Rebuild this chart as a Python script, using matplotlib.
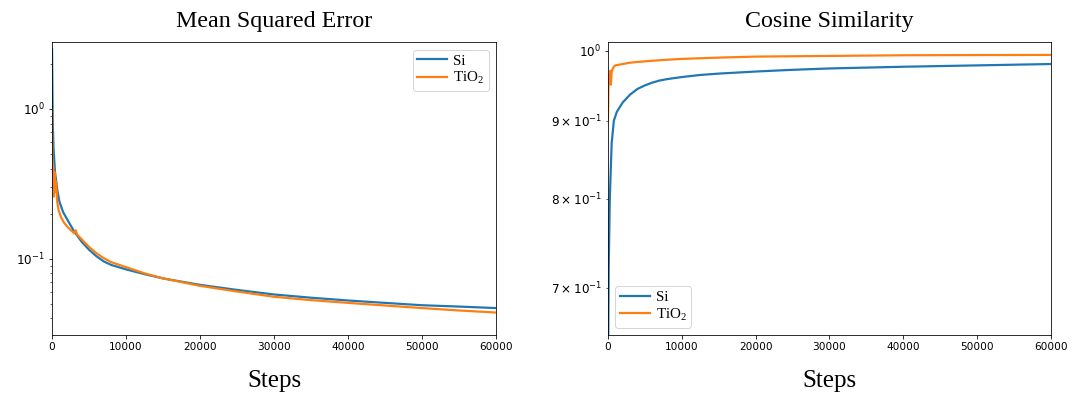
import numpy as np
import matplotlib
matplotlib.use('Agg')
import matplotlib.pyplot as plt

# MSE 曲线 (对数坐标)
mse_si_steps = [0, 100, 200, 400, 700, 1000, 1500, 2000, 3000, 4000, 5000, 6000, 7000, 8000,
                10000, 12500, 15000, 20000, 25000, 30000, 35000, 40000, 45000, 50000, 55000, 60000]
mse_si = [2.5, 0.8, 0.55, 0.38, 0.29, 0.24, 0.205, 0.185, 0.152, 0.13, 0.115, 0.104, 0.096, 0.091,
          0.085, 0.079, 0.074, 0.067, 0.062, 0.0578, 0.055, 0.0527, 0.0508, 0.049, 0.048, 0.0469]

mse_tio2_steps = [0, 50, 150, 250, 350, 450, 550, 700, 900, 1200, 1600, 2000, 2500, 3000, 3200, 3400,
                  4000, 5000, 6000, 7000, 8000, 10000, 12500, 15000, 20000, 25000, 30000, 35000,
                  40000, 45000, 50000, 55000, 60000]
mse_tio2 = [1.0, 0.3, 0.42, 0.26, 0.38, 0.28, 0.33, 0.24, 0.21, 0.19, 0.175, 0.165, 0.156, 0.148, 0.155,
            0.145, 0.135, 0.12, 0.109, 0.101, 0.095, 0.088, 0.080, 0.074, 0.066, 0.0605, 0.0558, 0.053,
            0.0508, 0.0488, 0.0469, 0.0452, 0.0438]

# 余弦相似度曲线
cos_si_steps = [0, 100, 250, 500, 800, 1200, 2000, 3000, 4000, 5000, 6000, 7000, 8000, 10000,
                12500, 15000, 20000, 25000, 30000, 40000, 50000, 60000]
cos_si = [0.6, 0.72, 0.80, 0.87, 0.90, 0.912, 0.925, 0.936, 0.944, 0.949, 0.953, 0.956, 0.958, 0.961,
          0.964, 0.966, 0.969, 0.9715, 0.9735, 0.976, 0.978, 0.980]

cos_tio2_steps = [0, 100, 200, 300, 400, 500, 600, 800, 1000, 2000, 3000, 5000, 7500, 10000, 15000,
                  20000, 30000, 40000, 50000, 60000]
cos_tio2 = [0.9, 0.965, 0.955, 0.97, 0.95, 0.968, 0.972, 0.976, 0.978, 0.980, 0.982, 0.984, 0.986,
            0.9876, 0.9895, 0.991, 0.992, 0.993, 0.9933, 0.9935]

xticks = [0, 10000, 20000, 30000, 40000, 50000, 60000]

serif = 'Liberation Serif'
blue = '#1f77b4'
orange = '#ff7f0e'

fig = plt.figure(figsize=(1073 / 72, 394 / 72), dpi=72)
ax1 = fig.add_axes([0.0485, 0.1497, 0.4138, 0.7437])
ax2 = fig.add_axes([0.5666, 0.1497, 0.4129, 0.7437])

leg_kw = dict(prop={'family': serif, 'size': 15}, handlelength=2,
              borderpad=0.3, labelspacing=0.15, handletextpad=0.4)

# 左图
ax1.plot(mse_si_steps, mse_si, color=blue, lw=2.2, label='Si')
ax1.plot(mse_tio2_steps, mse_tio2, color=orange, lw=2.2, label=r'TiO$_\mathregular{2}$')
ax1.set_yscale('log')
ax1.set_xlim(0, 60000)
ax1.set_ylim(0.031, 2.8)
ax1.set_xticks(xticks)
ax1.set_title('Mean Squared Error', fontfamily=serif, fontsize=24, pad=15)
ax1.set_xlabel('Steps', fontfamily=serif, fontsize=25, labelpad=18)
ax1.legend(loc='upper right', **leg_kw)

# 右图
ax2.plot(cos_si_steps, cos_si, color=blue, lw=2.2, label='Si')
ax2.plot(cos_tio2_steps, cos_tio2, color=orange, lw=2.2, label=r'TiO$_\mathregular{2}$')
ax2.set_yscale('log')
ax2.set_xlim(0, 60000)
ax2.set_ylim(0.652, 1.013)
ax2.set_xticks(xticks)
ax2.set_title('Cosine Similarity', fontfamily=serif, fontsize=24, pad=15)
ax2.set_xlabel('Steps', fontfamily=serif, fontsize=25, labelpad=18)
ax2.legend(loc='lower left', **leg_kw)

for ax in (ax1, ax2):
    ax.tick_params(axis='x', labelsize=10.5)
    ax.tick_params(axis='y', which='both', labelsize=12)

fig.savefig('out.png', dpi=72)
